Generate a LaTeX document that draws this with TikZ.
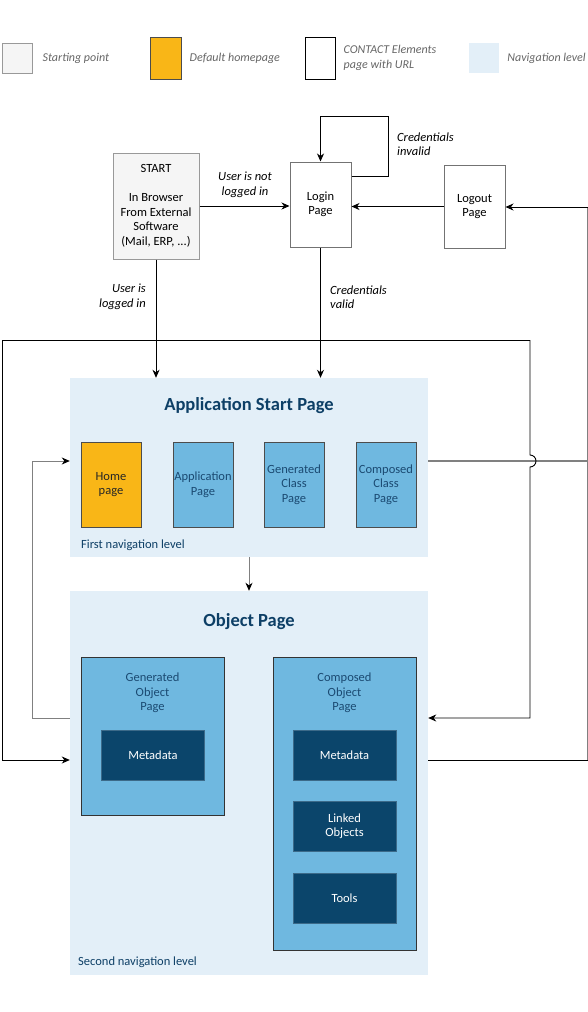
\documentclass[tikz,border=0pt]{standalone}
\usepackage{fontspec}
\setmainfont{Carlito}
\usetikzlibrary{positioning,arrows.meta}
\definecolor{startgray}{HTML}{F5F5F5}
\definecolor{homeorange}{HTML}{F9B617}
\definecolor{navblue}{HTML}{E3EFF8}
\definecolor{midblue}{HTML}{6FB8E0}
\definecolor{darkblue}{HTML}{0B456B}
\definecolor{titleblue}{HTML}{0D3F66}
\definecolor{labelblue}{HTML}{1B4A72}
\definecolor{legendgray}{HTML}{666666}
\definecolor{linegray}{HTML}{808080}
\tikzset{
  legtext/.style={font=\fontsize{12}{15}\selectfont\itshape,text=legendgray,inner sep=0pt,align=left},
  startbox/.style={draw=black!40,fill=startgray,line width=1pt,align=center},
  pagebox/.style={draw=black!55,fill=white,line width=1pt,align=center,minimum width=61,minimum height=85},
  navlevel/.style={fill=navblue,inner sep=0pt,minimum width=358},
  navtitle/.style={font=\fontsize{18.5}{21}\selectfont\bfseries,text=titleblue},
  navnote/.style={font=\fontsize{12.5}{14}\selectfont,text=titleblue,inner sep=0pt},
  classbox/.style={draw=black!70,fill=midblue,line width=1pt,text=labelblue,align=center,minimum width=60,minimum height=85,inner sep=0pt},
  objbox/.style={draw=black!80,fill=midblue,line width=1pt,minimum width=143},
  objtext/.style={text=labelblue,align=center},
  innerbox/.style={fill=darkblue,draw=darkblue!80!white,text=white,align=center,minimum width=103,minimum height=50},
  edgelabel/.style={font=\fontsize{12.5}{14.5}\selectfont\itshape,inner sep=0pt},
  conn/.style={line width=0.9pt,-{Stealth[length=8pt,width=7pt,inset=2.5pt]}},
  grayline/.style={draw=linegray,line width=1.4pt},
}
\begin{document}
\begin{tikzpicture}[x=1pt,y=-1pt,font=\fontsize{12.5}{14.5}\selectfont]
\useasboundingbox (0,0) rectangle (588,1012);
% legende
\node[startbox,minimum width=30,minimum height=30] (lstart) at (17,58) {};
\node[legtext,right=10pt of lstart] (lstarttext) {Starting point};
\node[draw=black!70,fill=homeorange,line width=1pt,minimum width=31,minimum height=42] (lhome) at (165.5,58) {};
\node[legtext,right=8pt of lhome] (lhometext) {Default homepage};
\node[draw=black,fill=white,line width=1pt,minimum width=30,minimum height=42] (lpage) at (320,58) {};
\node[legtext,right=8pt of lpage] (lpagetext) {CONTACT Elements\\page with URL};
\node[fill=navblue,minimum width=30,minimum height=30] (lnav) at (484,58) {};
\node[legtext,right=8pt of lnav] (lnavtext) {Navigation level};

% start, login, logout
\node[startbox,minimum width=86,minimum height=106,inner sep=0pt] (start) at (156,206) {START\\[14.5pt]In Browser\\From External\\Software\\(Mail, ERP, ...)};
\node[pagebox] (login) at (320.5,204.5) {Login\\Page};
\node[pagebox,minimum height=83] (logout) at (474.5,206.5) {Logout\\Page};

% navigation levels
\node[navlevel,minimum height=179] (appstart) at (249,467.5) {};
\node[navtitle] (astitle) at (249,406) {Application Start Page};
\node[navnote,anchor=west] (lvlone) at (81,545) {First navigation level};
\node[classbox,fill=homeorange,text=black!85] (home) at (111,484.5) {Home\\page};
\foreach \n/\x/\t in {app/203/{Application\\Page},gcp/294/{Generated\\Class\\Page},ccp/386/{Composed\\Class\\Page}}
  \node[classbox] (\n) at (\x,484.5) {\t};

\node[navlevel,minimum height=384] (objpage) at (249,783) {};
\node[navtitle] (optitle) at (249,622) {Object Page};
\node[navnote,anchor=west] (lvltwo) at (78,962) {Second navigation level};
\node[objbox,minimum height=158] (genobj) at (152.5,736) {};
\node[objtext] (genobjtext) at (152.5,693) {Generated\\Object\\Page};
\node[innerbox] (gmeta) at (153,755) {Metadata};
\node[objbox,minimum height=293] (compobj) at (344.5,803.5) {};
\node[objtext] (compobjtext) at (344.5,693) {Composed\\Object\\Page};
\node[innerbox] (cmeta) at (344.5,755) {Metadata};
\node[innerbox] (clinked) at (344.5,826) {Linked\\Objects};
\node[innerbox] (ctools) at (344.5,898) {Tools};

% edge labels
\node[edgelabel,align=center] (notin) at (245,185) {User is not\\logged in};
\node[edgelabel,align=right,anchor=east] (isin) at (146,297) {User is\\logged in};
\node[edgelabel,align=left,anchor=west] (valid) at (330,297) {Credentials\\valid};
\node[edgelabel,align=left,anchor=west] (invalid) at (397,144) {Credentials\\invalid};

% connectors
\coordinate (jl) at (2,340);
\coordinate (jr) at (530,340);
\coordinate (rtop) at (588,207);
\coordinate (rbot) at (588,760);
\draw[conn] ([yshift=-15pt]login.north east) -| ++(37,-60) -| (login.north);
\draw[conn] (start.east) -- (start.east -| login.west);
\draw[conn] (logout.west) -- (logout.west -| login.east);
\draw[conn] (start.south) -- (start.south |- appstart.north);
\draw[conn] (login.south) -- (login.south |- appstart.north);
\draw[line width=0.9pt] (jl) -- (jr);
\draw[conn] (jl) |- ([yshift=23pt]objpage.west);
\draw[grayline] ([yshift=6.5pt]appstart.east) -- (588,461);
\draw[conn] (jr) -- ++(0,115) arc[start angle=-90,end angle=90,radius=6] |- ([yshift=65pt]objpage.east);
\draw[grayline] (rtop) -- (rbot);
\draw[line width=0.9pt] ([yshift=23pt]objpage.east) -- (rbot);
\draw[conn] (rtop) -- (rtop -| logout.east);
\draw[grayline,conn,arrows={-{Stealth[length=8pt,width=7pt,inset=2.5pt,black]}}] ([yshift=65pt]objpage.west) -- ++(-37,0) |- ([yshift=6.5pt]appstart.west);
\draw[grayline,conn,arrows={-{Stealth[length=8pt,width=7pt,inset=2.5pt,black]}}] (appstart.south) -- (objpage.north);
\end{tikzpicture}
\end{document}
